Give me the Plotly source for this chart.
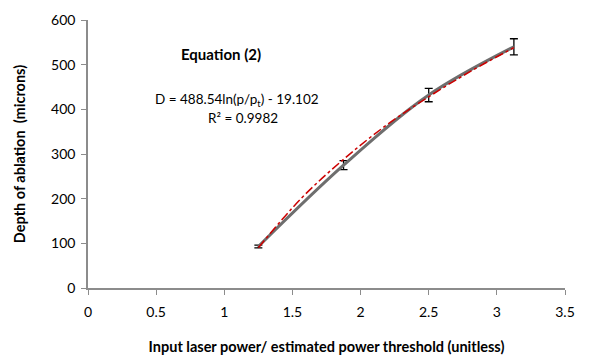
import plotly.graph_objects as go

# measured data (points with error bars)
ratio = [1.25, 1.875, 2.5, 3.125]
depth = [93, 275, 432, 540]
depth_err = [3, 10, 15, 18]

# logarithmic trendline
trend_x = [1.25, 1.5625, 1.875, 2.1875, 2.5, 2.8125, 3.125]
trend_y = [90, 200, 288, 364, 428, 486, 538]

x_ticks = [0, 0.5, 1, 1.5, 2, 2.5, 3, 3.5]
x_tick_text = ["0", "0.5", "1", "1.5", "2", "2.5", "3", "3.5"]
y_ticks = [0, 100, 200, 300, 400, 500, 600]

FONT = "Lato"

fig = go.Figure()
fig.add_trace(go.Scatter(
    x=ratio, y=depth, mode="lines",
    line=dict(color="#6e6e6e", width=3, shape="spline"),
    error_y=dict(type="data", array=depth_err, visible=True,
                 color="black", thickness=1.3, width=4),
    showlegend=False, hoverinfo="skip"))
fig.add_trace(go.Scatter(
    x=trend_x, y=trend_y, mode="lines",
    line=dict(color="#cc0000", width=1.5, dash="dashdot", shape="spline"),
    showlegend=False, hoverinfo="skip"))

axis_common = dict(showgrid=False, zeroline=False, showline=True,
                   linecolor="#8c8c8c", linewidth=1.5, automargin=False,
                   ticks="outside", tickcolor="#8c8c8c", ticklen=5, tickwidth=1,
                   tickfont=dict(family=FONT, size=14, color="black"))

fig.update_layout(
    width=610, height=360,
    margin=dict(l=88, r=45, t=20, b=72),
    paper_bgcolor="white", plot_bgcolor="white",
    xaxis=dict(range=[0, 3.5], tickvals=x_ticks, ticktext=x_tick_text,
               ticklabelstandoff=5,
               title=dict(text="<b>Input laser power/ estimated power threshold (unitless)</b>",
                          font=dict(family=FONT, size=14.5, color="black"), standoff=23),
               **axis_common),
    yaxis=dict(range=[0, 600], tickvals=y_ticks,
               ticklabelstandoff=3,
               title=dict(text="<b>Depth of ablation  (microns)</b>",
                          font=dict(family=FONT, size=14.5, color="black"), standoff=22),
               **axis_common),
    annotations=[
        dict(x=0.974, y=525, xref="x", yref="y", showarrow=False,
             text="<b>Equation (2)</b>", font=dict(family=FONT, size=15, color="black")),
        dict(x=1.091, y=420, xref="x", yref="y", showarrow=False,
             text="D = 488.54ln(p/p<sub>t</sub>) - 19.102",
             font=dict(family=FONT, size=13.5, color="black")),
        dict(x=1.135, y=380, xref="x", yref="y", showarrow=False,
             text="R² = 0.9982", font=dict(family=FONT, size=13.5, color="black")),
    ],
)

fig.write_html("out.html")
